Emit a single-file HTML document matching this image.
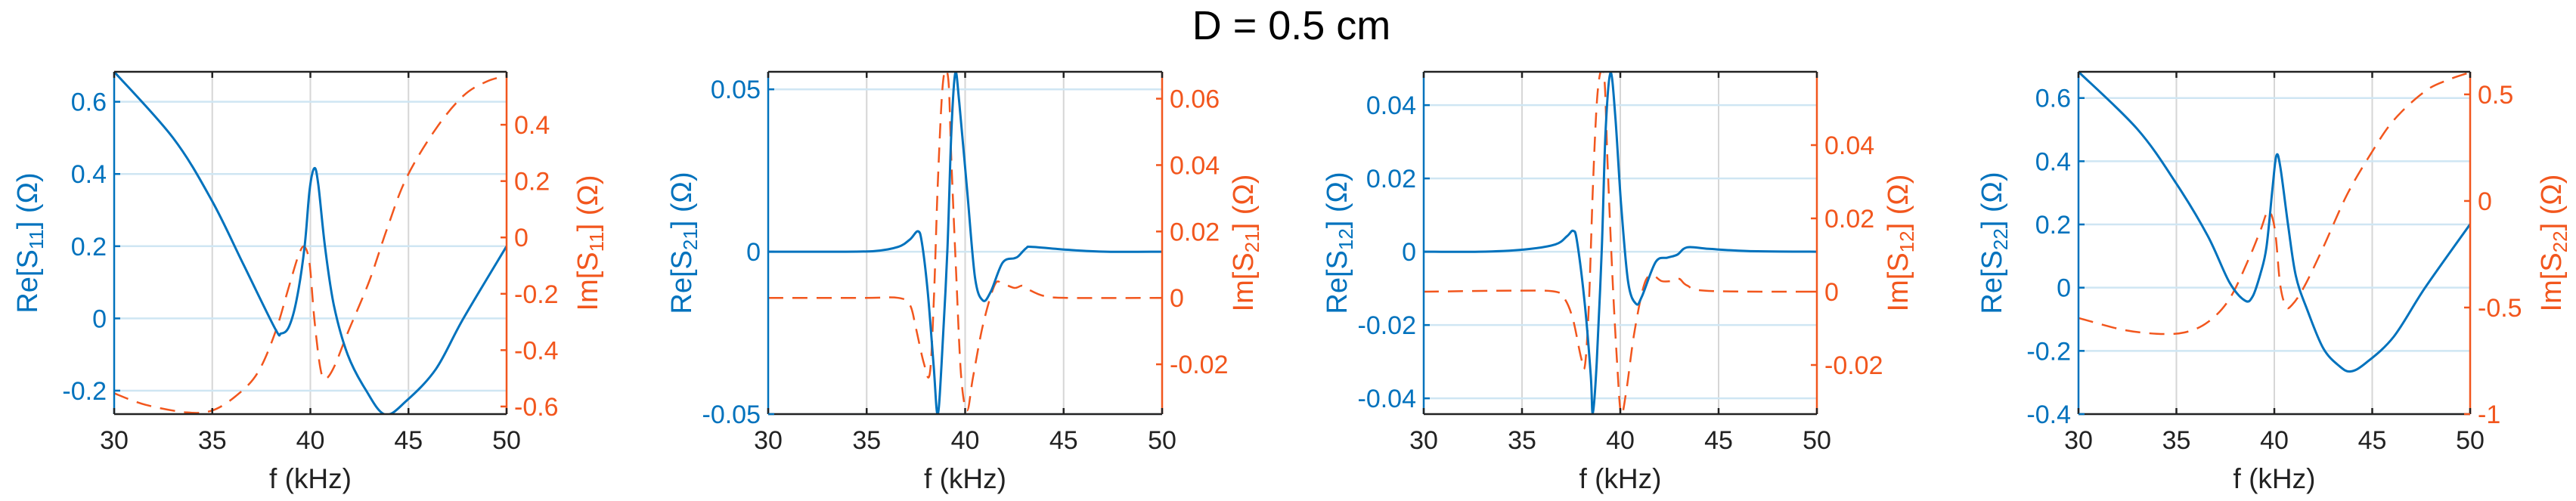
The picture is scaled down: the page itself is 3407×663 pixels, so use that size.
<!DOCTYPE html>
<html><head><meta charset="utf-8"><style>
html,body{margin:0;padding:0;background:#fff}
svg{display:block;font-family:"Liberation Sans",Arial,sans-serif}
</style></head><body>
<svg id="fig" width="3407" height="663" viewBox="0 0 3407 663" xmlns="http://www.w3.org/2000/svg">
<text x="1708" y="52" font-size="54" text-anchor="middle" fill="#000">D = 0.5 cm</text>
</svg>
<script>
const xTicks=[30,35,40,45,50];
// Panel 1 : S11
const p1ReF=[30,33.0,35,36.6,38.2,38.5,38.9,39.3,39.7,39.96,40.2,40.4,40.75,41.2,41.9,42.8,43.8,44.9,46.4,47.8,50];
const p1ReV=[0.683,0.5,0.324,0.148,-0.028,-0.042,-0.024,0.052,0.196,0.356,0.416,0.372,0.196,0.036,-0.1,-0.196,-0.266,-0.228,-0.14,0,0.2];
const p1ImF=[30,31.6,33.7,35,36.2,37.3,38.2,38.9,39.4,39.7,39.96,40.2,40.5,40.75,41.2,41.9,43,43.9,44.9,46.4,47.8,49,50];
const p1ImV=[-0.553,-0.594,-0.621,-0.614,-0.563,-0.482,-0.339,-0.176,-0.063,-0.033,-0.094,-0.288,-0.461,-0.502,-0.461,-0.339,-0.155,0.029,0.212,0.386,0.503,0.554,0.574];
const p1LeftTicks=[-0.2,0,0.2,0.4,0.6];
const p1LeftLabels=["-0.2","0","0.2","0.4","0.6"];
const p1RightTicks=[-0.6,-0.4,-0.2,0,0.2,0.4];
const p1RightLabels=["-0.6","-0.4","-0.2","0","0.2","0.4"];
// Panel 2 : S21
const p2ReF=[30,33.4,35.4,36.6,37.2,37.6,37.8,38.1,38.4,38.6,38.8,39.1,39.3,39.5,39.7,40.1,40.5,40.9,41.3,41.9,42.5,42.7,43.1,43.4,45.2,47.2,50];
const p2ReV=[0,0,0.0002,0.0015,0.0038,0.0063,0.0029,-0.0123,-0.035,-0.05,-0.035,0.001,0.037,0.055,0.046,0.019,-0.0079,-0.015,-0.0123,-0.0034,-0.002,-0.0014,0.0011,0.0015,0.0006,0,0];
const p2ImF=[30,34.8,36.6,37.2,37.5,37.9,38.2,38.4,38.6,38.8,38.96,39.16,39.3,39.55,39.8,40.1,40.4,40.9,41.5,41.9,42.5,42.9,43.2,44,45.2,50];
const p2ImV=[0,0,0,-0.0022,-0.0091,-0.0196,-0.023,-0.0022,0.0326,0.0587,0.068,0.0648,0.0413,0.0065,-0.0239,-0.0339,-0.0239,-0.0083,0.0039,0.0043,0.003,0.0037,0.0026,0.0006,0,0];
const p2LeftTicks=[-0.05,0,0.05];
const p2LeftLabels=["-0.05","0","0.05"];
const p2RightTicks=[-0.02,0,0.02,0.04,0.06];
const p2RightLabels=["-0.02","0","0.02","0.04","0.06"];
// Panel 3 : S12
const p3ReF=[30,32.8,35.1,36.7,37.3,37.6,37.8,38.2,38.5,38.6,38.8,39.06,39.25,39.5,39.75,40.04,40.4,40.8,41.1,41.8,42.4,42.9,43.4,44.5,46.5,50];
const p3ReV=[0,0,0.0006,0.002,0.0043,0.0057,0.0028,-0.0146,-0.034,-0.044,-0.0303,0.0012,0.0327,0.0488,0.0366,0.013,-0.0083,-0.0142,-0.0122,-0.0028,-0.0016,-0.0008,0.0012,0.0008,0.0002,0];
const p3ImF=[30,34.7,36.7,37.2,37.6,38,38.2,38.4,38.6,38.8,39.0,39.2,39.35,39.6,39.84,40.04,40.3,40.7,41.2,41.6,42.1,42.6,43,43.4,44.5,50];
const p3ImV=[0,0.0003,0,-0.0022,-0.0077,-0.0179,-0.0202,-0.0038,0.0276,0.0511,0.06,0.0574,0.0354,0.0041,-0.0195,-0.0333,-0.0273,-0.0116,0.0017,0.0045,0.0029,0.0029,0.0035,0.0017,0.0002,0];
const p3LeftTicks=[-0.04,-0.02,0,0.02,0.04];
const p3LeftLabels=["-0.04","-0.02","0","0.02","0.04"];
const p3RightTicks=[-0.02,0,0.02,0.04];
const p3RightLabels=["-0.02","0","0.02","0.04"];
// Panel 4 : S22
const p4ReF=[30,33,35,36.6,37.7,38.5,38.9,39.3,39.6,39.9,40.1,40.3,40.7,41.1,41.7,42.5,43.3,43.9,44.7,46.1,47.7,50];
const p4ReV=[0.683,0.502,0.329,0.164,0.018,-0.041,-0.027,0.046,0.128,0.31,0.417,0.384,0.2,0.037,-0.073,-0.192,-0.247,-0.265,-0.237,-0.155,0,0.201];
const p4ImF=[30,32.2,34,35.4,36.6,37.7,38.7,39.3,39.7,40.03,40.3,40.6,40.9,41.5,42.5,43.7,44.9,46.1,47.7,48.9,50];
const p4ImV=[-0.549,-0.603,-0.623,-0.617,-0.569,-0.461,-0.271,-0.136,-0.047,-0.136,-0.393,-0.495,-0.488,-0.407,-0.217,0.027,0.217,0.379,0.515,0.569,0.603];
const p4LeftTicks=[-0.4,-0.2,0,0.2,0.4,0.6];
const p4LeftLabels=["-0.4","-0.2","0","0.2","0.4","0.6"];
const p4RightTicks=[-1,-0.5,0,0.5];
const p4RightLabels=["-1","-0.5","0","0.5"];

const panels=[
 {id:'s11',sub:'11',x0:151,x1:670,lr:[-0.265,0.683],rr:[-0.627,0.588],reF:p1ReF,reV:p1ReV,imF:p1ImF,imV:p1ImV,lt:p1LeftTicks,ll:p1LeftLabels,rt:p1RightTicks,rl:p1RightLabels},
 {id:'s21',sub:'21',x0:1016,x1:1537,lr:[-0.05,0.0554],rr:[-0.035,0.0681],reF:p2ReF,reV:p2ReV,imF:p2ImF,imV:p2ImV,lt:p2LeftTicks,ll:p2LeftLabels,rt:p2RightTicks,rl:p2RightLabels},
 {id:'s12',sub:'12',x0:1883,x1:2403,lr:[-0.0443,0.0491],rr:[-0.0334,0.06],reF:p3ReF,reV:p3ReV,imF:p3ImF,imV:p3ImV,lt:p3LeftTicks,ll:p3LeftLabels,rt:p3RightTicks,rl:p3RightLabels},
 {id:'s22',sub:'22',x0:2749,x1:3267,lr:[-0.4,0.683],rr:[-1,0.606],reF:p4ReF,reV:p4ReV,imF:p4ImF,imV:p4ImV,lt:p4LeftTicks,ll:p4LeftLabels,rt:p4RightTicks,rl:p4RightLabels}
];
const NS='http://www.w3.org/2000/svg';
const svg=document.getElementById('fig');
const Y0=95,Y1=548,BLUE='#0072BD',ORANGE='#F2561D';
function mk(tag,attrs,parent){const e=document.createElementNS(NS,tag);for(const k in attrs)e.setAttribute(k,attrs[k]);(parent||svg).appendChild(e);return e;}
function smooth(pts){
 let d='M'+pts[0][0].toFixed(1)+','+pts[0][1].toFixed(1);
 for(let i=0;i<pts.length-1;i++){
  const p0=pts[Math.max(i-1,0)],p1=pts[i],p2=pts[i+1],p3=pts[Math.min(i+2,pts.length-1)];
  const c1x=p1[0]+(p2[0]-p0[0])/6,c1y=p1[1]+(p2[1]-p0[1])/6;
  const c2x=p2[0]-(p3[0]-p1[0])/6,c2y=p2[1]-(p3[1]-p1[1])/6;
  d+='C'+c1x.toFixed(1)+','+c1y.toFixed(1)+' '+c2x.toFixed(1)+','+c2y.toFixed(1)+' '+p2[0].toFixed(1)+','+p2[1].toFixed(1);
 }
 return d;
}
panels.forEach((p,pi)=>{
 const g=mk('g',{});
 
 
 const xs=f=>p.x0+(f-30)/20*(p.x1-p.x0);
 const yl=v=>Y1-(v-p.lr[0])/(p.lr[1]-p.lr[0])*(Y1-Y0);
 const yr=v=>Y1-(v-p.rr[0])/(p.rr[1]-p.rr[0])*(Y1-Y0);
 xTicks.forEach(t=>{const l=mk('line',{x1:xs(t),x2:xs(t),y1:Y0,y2:Y1,stroke:'#d6d6d6','stroke-width':2},g);
  });
 p.lt.forEach(t=>{const l=mk('line',{x1:p.x0,x2:p.x1,y1:yl(t),y2:yl(t),stroke:'#cfe6f3','stroke-width':2.5},g);
  });
 const cp=mk('clipPath',{id:'clip'+pi},g);mk('rect',{x:p.x0,y:Y0,width:p.x1-p.x0,height:Y1-Y0},cp);
 const reD=smooth(p.reF.map((f,i)=>[xs(f),yl(p.reV[i])]));
 const imD=smooth(p.imF.map((f,i)=>[xs(f),yr(p.imV[i])]));
 const im=mk('path',{d:imD,fill:'none',stroke:ORANGE,'stroke-width':2.5,'stroke-dasharray':'20 12','stroke-linejoin':'round','clip-path':'url(#clip'+pi+')'},g);
 
 const re=mk('path',{d:reD,fill:'none',stroke:BLUE,'stroke-width':3,'stroke-linejoin':'round','clip-path':'url(#clip'+pi+')'},g);
 
 const top=mk('line',{x1:p.x0,x2:p.x1,y1:Y0,y2:Y0,stroke:'#222','stroke-width':2.5},g);
 
 const bot=mk('line',{x1:p.x0,x2:p.x1,y1:Y1,y2:Y1,stroke:'#222','stroke-width':2.5},g);
 
 const la=mk('line',{x1:p.x0,x2:p.x0,y1:Y0,y2:Y1,stroke:BLUE,'stroke-width':2.5},g);
 
 const ra=mk('line',{x1:p.x1,x2:p.x1,y1:Y0,y2:Y1,stroke:ORANGE,'stroke-width':2.5},g);
 
 xTicks.forEach(t=>{
  mk('line',{x1:xs(t),x2:xs(t),y1:Y1,y2:Y1-8,stroke:'#222','stroke-width':2.5},g);
  mk('line',{x1:xs(t),x2:xs(t),y1:Y0,y2:Y0+8,stroke:'#222','stroke-width':2.5},g);
  const tx=mk('text',{x:xs(t),y:594,'font-size':34,'text-anchor':'middle',fill:'#222'},g);
  
  tx.textContent=String(t);
 });
 const xl=mk('text',{x:(p.x0+p.x1)/2,y:646,'font-size':37,'text-anchor':'middle',fill:'#222'},g);
 
 xl.textContent='f (kHz)';
 p.lt.forEach((t,i)=>{
  mk('line',{x1:p.x0,x2:p.x0+8,y1:yl(t),y2:yl(t),stroke:BLUE,'stroke-width':2.5},g);
  const tx=mk('text',{x:p.x0-10,y:yl(t)+12,'font-size':34,'text-anchor':'end',fill:BLUE},g);
  
  tx.textContent=p.ll[i];
 });
 p.rt.forEach((t,i)=>{
  mk('line',{x1:p.x1,x2:p.x1-8,y1:yr(t),y2:yr(t),stroke:ORANGE,'stroke-width':2.5},g);
  const tx=mk('text',{x:p.x1+10,y:yr(t)+12,'font-size':34,'text-anchor':'start',fill:ORANGE},g);
  
  tx.textContent=p.rl[i];
 });
 function ytitle(cx,pre,color,name){
  const t=mk('text',{x:0,y:0,'font-size':38,'text-anchor':'middle',fill:color,transform:'translate('+cx+','+((Y0+Y1)/2)+') rotate(-90)'},g);
  
  const a=mk('tspan',{},t);a.textContent=pre+'[S';
  const b=mk('tspan',{'font-size':26,dy:8},t);b.textContent=p.sub;
  const c=mk('tspan',{dy:-8},t);c.textContent='] (Ω)';
 }
 ytitle(p.x0-102,'Re',BLUE,'left-y-axis-title');
 ytitle(p.x1+120,'Im',ORANGE,'right-y-axis-title');
});
</script>
</body></html>
